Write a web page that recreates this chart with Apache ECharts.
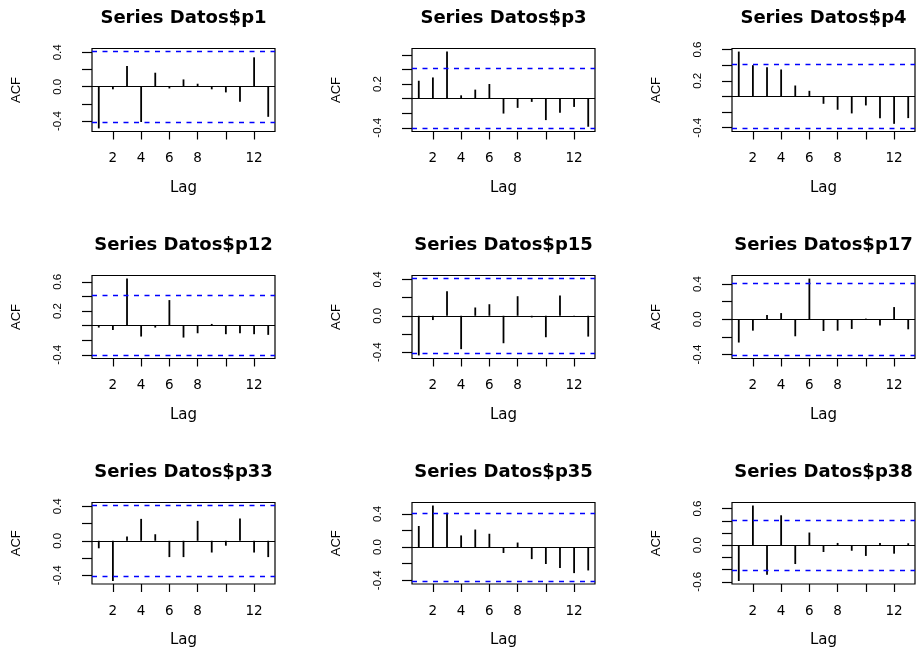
<!DOCTYPE html>
<html><head><meta charset="utf-8">
<script src="https://cdn.jsdelivr.net/npm/echarts@6/dist/echarts.min.js"></script>
<style>html,body{margin:0;padding:0;background:#fff}#c{width:922px;height:649px}</style>
</head><body><div id="c"></div>
<script>
// ---- data ----
const lags = [1,2,3,4,5,6,7,8,9,10,11,12,13];
const titles = ["Series Datos$p1","Series Datos$p3","Series Datos$p4",
                "Series Datos$p12","Series Datos$p15","Series Datos$p17",
                "Series Datos$p33","Series Datos$p35","Series Datos$p38"];
const acf_p1  = [-0.485,-0.03,0.24,-0.41,0.163,-0.02,0.085,0.035,-0.03,-0.066,-0.175,0.342,-0.35];
const acf_p3  = [0.245,0.29,0.645,0.045,0.123,0.2,-0.205,-0.127,-0.045,-0.295,-0.195,-0.114,-0.386];
const acf_p4  = [0.574,0.40,0.374,0.345,0.14,0.072,-0.094,-0.17,-0.217,-0.115,-0.28,-0.35,-0.277];
const acf_p12 = [-0.027,-0.06,0.645,-0.15,-0.027,0.35,-0.164,-0.105,0.023,-0.118,-0.105,-0.118,-0.127];
const acf_p15 = [-0.436,-0.047,0.269,-0.367,0.091,0.127,-0.302,0.215,-0.018,-0.236,0.222,-0.011,-0.229];
const acf_p17 = [-0.263,-0.128,0.049,0.071,-0.192,0.462,-0.132,-0.128,-0.109,0.008,-0.071,0.139,-0.113];
const acf_p33 = [-0.087,-0.466,0.049,0.254,0.076,-0.189,-0.189,0.231,-0.136,-0.057,0.258,-0.136,-0.189];
const acf_p35 = [0.255,0.502,0.416,0.141,0.212,0.161,-0.071,0.055,-0.145,-0.204,-0.251,-0.314,-0.282];
const acf_p38 = [-0.587,0.651,-0.485,0.491,-0.309,0.208,-0.112,0.037,-0.091,-0.176,0.037,-0.139,0.032];
const ciLimit = 0.409;
const xTicks = [2,4,6,8,10,12];
const xTickLabels = [2,4,6,8,12];
const yTicks_a = [-0.4,-0.2,0.0,0.2,0.4];
const yTicks_b = [-0.4,-0.2,0.0,0.2,0.4,0.6];
const yTicks_c = [-0.6,-0.4,-0.2,0.0,0.2,0.4,0.6];
const yLabels_a = [-0.4,0.0,0.4];
const yLabels_b = [-0.4,0.2];
const yLabels_c = [-0.4,0.2,0.6];
const yLabels_d = [-0.6,0.0,0.6];

const panels = [
  {acf: acf_p1,  yt: yTicks_a, yl: yLabels_a},
  {acf: acf_p3,  yt: yTicks_b, yl: yLabels_b},
  {acf: acf_p4,  yt: yTicks_b, yl: yLabels_c},
  {acf: acf_p12, yt: yTicks_b, yl: yLabels_c},
  {acf: acf_p15, yt: yTicks_a, yl: yLabels_a},
  {acf: acf_p17, yt: yTicks_a, yl: yLabels_a},
  {acf: acf_p33, yt: yTicks_a, yl: yLabels_a},
  {acf: acf_p35, yt: yTicks_a, yl: yLabels_a},
  {acf: acf_p38, yt: yTicks_c, yl: yLabels_d}
];

// ---- layout ----
const colLeft = [92, 412, 732];
const rowTop = [48.5, 275.5, 502.5];
const boxW = 183, boxH = 83;

const grid = [], xAxis = [], yAxis = [], series = [], title = [];
panels.forEach((p, i) => {
  const r = Math.floor(i / 3), c = i % 3;
  grid.push({left: colLeft[c], top: rowTop[r], width: boxW, height: boxH,
    show: true, borderColor: '#000', borderWidth: 1.2, backgroundColor: 'transparent'});
  title.push({text: titles[i], left: colLeft[c] + boxW / 2, top: rowTop[r] - 30,
    textAlign: 'center', textVerticalAlign: 'middle', padding: 0,
    textStyle: {fontFamily: 'DejaVu Sans', fontWeight: 'bold', fontSize: 18, color: '#000'}});
  const lo = Math.min(...p.acf, -ciLimit), hi = Math.max(...p.acf, ciLimit);
  const ext = 0.04 * (hi - lo);
  xAxis.push({type: 'value', gridIndex: i, min: 0.52, max: 13.48, position: 'bottom',
    axisLine: {show: false, onZero: false}, splitLine: {show: false},
    axisTick: {show: true, customValues: xTicks, length: 8, lineStyle: {color: '#000', width: 1.2}},
    axisLabel: {customValues: xTickLabels, margin: 20, color: '#000', fontFamily: 'DejaVu Sans', fontSize: 13.5},
    name: 'Lag', nameLocation: 'middle', nameGap: 49,
    nameTextStyle: {color: '#000', fontFamily: 'DejaVu Sans', fontSize: 15}});
  yAxis.push({type: 'value', gridIndex: i, min: lo - ext, max: hi + ext, position: 'left',
    axisLine: {show: false, onZero: false}, splitLine: {show: false},
    axisTick: {show: true, customValues: p.yt, length: 10, lineStyle: {color: '#000', width: 1.2}},
    axisLabel: {customValues: p.yl, rotate: 90, margin: 28, color: '#000',
      fontFamily: 'Liberation Sans', fontSize: 11.5,
      formatter: v => (Math.abs(v) < 1e-9 ? 0 : v).toFixed(1)},
    name: 'ACF', nameLocation: 'middle', nameGap: 69,
    nameTextStyle: {color: '#000', fontFamily: 'Liberation Sans', fontSize: 13}});
  series.push({type: 'bar', xAxisIndex: i, yAxisIndex: i, barWidth: 1.8,
    itemStyle: {color: '#000'},
    data: lags.map((l, k) => [l, p.acf[k]]),
    markLine: {symbol: 'none', silent: true, label: {show: false}, animation: false,
      data: [
        {yAxis: 0, lineStyle: {color: '#000', type: 'solid', width: 1.2}},
        {yAxis: ciLimit, lineStyle: {color: '#0000ff', type: [5, 5.5], width: 1.3}},
        {yAxis: -ciLimit, lineStyle: {color: '#0000ff', type: [5, 5.5], width: 1.3}}
      ]}});
});

const chart = echarts.init(document.getElementById('c'), null, {renderer: 'canvas'});
chart.setOption({animation: false, backgroundColor: '#fff', title, grid, xAxis, yAxis, series});
</script></body></html>
